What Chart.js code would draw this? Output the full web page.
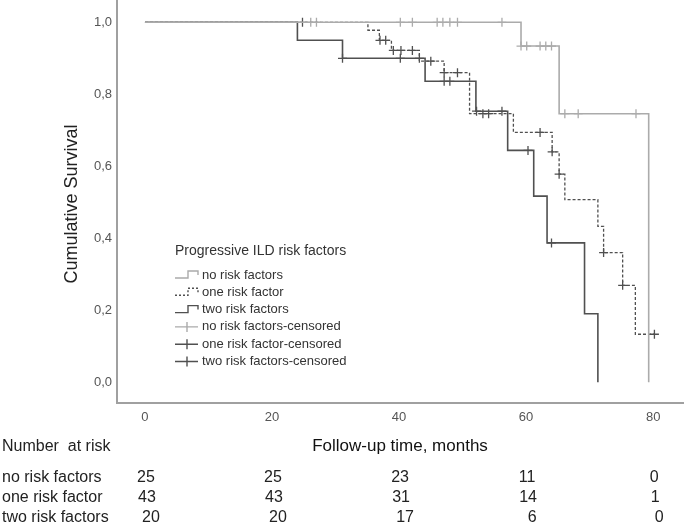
<!DOCTYPE html>
<html>
<head>
<meta charset="utf-8">
<script src="https://cdn.jsdelivr.net/npm/chart.js@4.4.1/dist/chart.umd.min.js"></script>
<style>
  body { margin: 0; background: #fff; }
  canvas { display: block; }
</style>
</head>
<body>
<canvas id="kmChart" width="685" height="527"></canvas>
<script>
// Kaplan-Meier curves (time in months, cumulative survival)
const groupNames = ['no risk factors', 'one risk factor', 'two risk factors'];

const noRiskTimes = [0, 59.2, 65.2, 79.3];
const noRiskSurv = [1, 0.934, 0.746, 0];
const noRiskCensored = [26.1, 27.0, 40.2, 42.1, 46.0, 46.9, 48.0, 49.2, 56.2, 59.2, 60.1, 62.2, 63.1, 64.0, 66.1, 68.2, 77.3];

const oneRiskTimes = [0, 35.1, 36.9, 38.8, 43.2, 47.1, 51.1, 58.0, 64.1, 65.2, 66.1, 71.3, 72.2, 75.2, 77.2, 80.3];
const oneRiskSurv = [1, 0.978, 0.95, 0.922, 0.892, 0.86, 0.746, 0.694, 0.64, 0.578, 0.507, 0.433, 0.36, 0.269, 0.133, 0.133];
const oneRiskCensored = [24.8, 37.0, 37.9, 39.1, 40.3, 42.1, 45.0, 47.1, 49.2, 53.2, 54.1, 62.2, 64.1, 65.2, 72.2, 75.2, 80.2];

const twoRiskTimes = [0, 24.0, 31.1, 44.1, 52.1, 57.1, 61.2, 63.3, 69.2, 71.3];
const twoRiskSurv = [1, 0.95, 0.90, 0.836, 0.753, 0.644, 0.517, 0.387, 0.19, 0];
const twoRiskCensored = [31.1, 40.2, 43.2, 47.1, 48.0, 52.2, 56.2, 60.3, 64.0];

// number at risk table
const riskTimes = [0, 20, 40, 60, 80];
const noRiskAtRisk = [25, 25, 23, 11, 0];
const oneRiskAtRisk = [43, 43, 31, 14, 1];
const twoRiskAtRisk = [20, 20, 17, 6, 0];

const xTicks = [0, 20, 40, 60, 80];
const yTicks = [0, 0.2, 0.4, 0.6, 0.8, 1.0];

const lightGray = '#ababab';
const darkGray = '#505050';
const FONT = '"Liberation Sans", Arial, sans-serif';

// survival value of the step curve at time t (used to place censor marks)
function survAt(times, surv, t) {
    let s = surv[0];
    for (let i = 0; i < times.length; i++) {
        if (times[i] <= t + 1e-9) s = surv[i];
    }
    return s;
}

function curve(times, surv) {
    return times.map((t, i) => ({ x: t, y: surv[i] }));
}

function censorPoints(times, surv, cens) {
    return cens.map(t => ({ x: t, y: survAt(times, surv, t) }));
}

// no extra padding around the plot box
function noPadding(scale) {
    scale.paddingTop = 0;
    scale.paddingBottom = 0;
    scale.paddingLeft = 0;
    scale.paddingRight = 0;
}

// legend, axis titles and number-at-risk table
const extrasPlugin = {
    id: 'extras',
    afterDraw(chart) {
        const ctx = chart.ctx;
        const xs = chart.scales.x;

        // y axis title
        ctx.save();
        ctx.translate(72, 204);
        ctx.rotate(-Math.PI / 2);
        ctx.font = '18px ' + FONT;
        ctx.fillStyle = '#222';
        ctx.textAlign = 'center';
        ctx.textBaseline = 'middle';
        ctx.fillText('Cumulative Survival', 0, 0);
        ctx.restore();

        // x axis title
        ctx.save();
        ctx.font = '17px ' + FONT;
        ctx.fillStyle = '#111';
        ctx.textAlign = 'center';
        ctx.textBaseline = 'middle';
        ctx.fillText('Follow-up time, months', (chart.chartArea.left + chart.chartArea.right) / 2, 446);
        ctx.restore();

        // legend
        ctx.save();
        const lx = 175;
        ctx.font = '14px ' + FONT;
        ctx.fillStyle = '#333';
        ctx.textBaseline = 'middle';
        ctx.fillText('Progressive ILD risk factors', lx, 251);
        const items = [
            { text: 'no risk factors', color: lightGray, dash: [], step: true },
            { text: 'one risk factor', color: darkGray, dash: [2, 2], step: true },
            { text: 'two risk factors', color: darkGray, dash: [], step: true },
            { text: 'no risk factors-censored', color: lightGray, step: false },
            { text: 'one risk factor-censored', color: darkGray, step: false },
            { text: 'two risk factors-censored', color: darkGray, step: false }
        ];
        ctx.font = '13px ' + FONT;
        items.forEach((it, i) => {
            const y = 275 + i * 17.3;
            ctx.strokeStyle = it.color;
            ctx.lineWidth = 1.4;
            ctx.beginPath();
            if (it.step) {
                ctx.setLineDash(it.dash);
                ctx.moveTo(lx, y + 3);
                ctx.lineTo(lx + 13, y + 3);
                ctx.lineTo(lx + 13, y - 4);
                ctx.lineTo(lx + 23, y - 4);
                ctx.lineTo(lx + 23, y);
            } else {
                ctx.setLineDash([]);
                ctx.moveTo(lx, y);
                ctx.lineTo(lx + 23, y);
                ctx.moveTo(lx + 12, y - 5);
                ctx.lineTo(lx + 12, y + 5);
            }
            ctx.stroke();
            ctx.fillStyle = '#333';
            ctx.fillText(it.text, lx + 27, y);
        });
        ctx.restore();

        // number at risk
        ctx.save();
        ctx.font = '16px ' + FONT;
        ctx.fillStyle = '#222';
        ctx.textBaseline = 'middle';
        ctx.textAlign = 'left';
        ctx.fillText('Number  at risk', 2, 447);
        const rows = [noRiskAtRisk, oneRiskAtRisk, twoRiskAtRisk];
        const rowShift = [1, 2, 6];
        rows.forEach((vals, r) => {
            const y = 478 + r * 20;
            ctx.textAlign = 'left';
            ctx.fillText(groupNames[r], 2, y);
            ctx.textAlign = 'center';
            vals.forEach((v, c) => {
                ctx.fillText(String(v), xs.getPixelForValue(riskTimes[c]) + rowShift[r], y);
            });
        });
        ctx.restore();
    }
};

const ctx = document.getElementById('kmChart').getContext('2d');

new Chart(ctx, {
    type: 'line',
    data: {
        datasets: [
            {
                label: groupNames[0],
                data: curve(noRiskTimes, noRiskSurv),
                borderColor: lightGray,
                borderWidth: 1.6,
                stepped: true,
                pointRadius: 0
            },
            {
                label: groupNames[1],
                data: curve(oneRiskTimes, oneRiskSurv),
                borderColor: darkGray,
                borderWidth: 1.3,
                borderDash: [3, 2],
                stepped: true,
                pointRadius: 0
            },
            {
                label: groupNames[2],
                data: curve(twoRiskTimes, twoRiskSurv),
                borderColor: darkGray,
                borderWidth: 1.6,
                stepped: true,
                pointRadius: 0
            },
            {
                label: groupNames[0] + '-censored',
                type: 'scatter',
                data: censorPoints(noRiskTimes, noRiskSurv, noRiskCensored),
                pointStyle: 'cross',
                pointRadius: 4.5,
                pointBorderWidth: 1.3,
                borderColor: lightGray,
                showLine: false
            },
            {
                label: groupNames[1] + '-censored',
                type: 'scatter',
                data: censorPoints(oneRiskTimes, oneRiskSurv, oneRiskCensored),
                pointStyle: 'cross',
                pointRadius: 4.5,
                pointBorderWidth: 1.3,
                borderColor: darkGray,
                showLine: false
            },
            {
                label: groupNames[2] + '-censored',
                type: 'scatter',
                data: censorPoints(twoRiskTimes, twoRiskSurv, twoRiskCensored),
                pointStyle: 'cross',
                pointRadius: 4.5,
                pointBorderWidth: 1.3,
                borderColor: darkGray,
                showLine: false
            }
        ]
    },
    options: {
        responsive: false,
        animation: false,
        layout: { autoPadding: false, padding: { left: 0, right: 2, top: 0, bottom: 0 } },
        plugins: {
            legend: { display: false },
            tooltip: { enabled: false }
        },
        scales: {
            x: {
                type: 'linear',
                min: -4.4,
                max: 84.7,
                afterBuildTicks: (scale) => { scale.ticks = xTicks.map(v => ({ value: v })); },
                afterFit: (scale) => { scale.height = 124; noPadding(scale); },
                grid: { display: false, drawTicks: false },
                border: { display: true, color: '#a0a0a0', width: 2 },
                ticks: {
                    padding: 7,
                    color: '#555',
                    font: { family: FONT, size: 13 },
                    maxRotation: 0
                }
            },
            y: {
                min: -0.058,
                max: 1.062,
                afterBuildTicks: (scale) => { scale.ticks = yTicks.map(v => ({ value: v })); },
                afterFit: (scale) => { scale.width = 117; noPadding(scale); },
                grid: { display: false, drawTicks: false },
                border: { display: true, color: '#a0a0a0', width: 2 },
                ticks: {
                    padding: 5,
                    color: '#555',
                    font: { family: FONT, size: 13 },
                    callback: (v) => v.toFixed(1).replace('.', ',')
                }
            }
        }
    },
    plugins: [extrasPlugin]
});
</script>
</body>
</html>
